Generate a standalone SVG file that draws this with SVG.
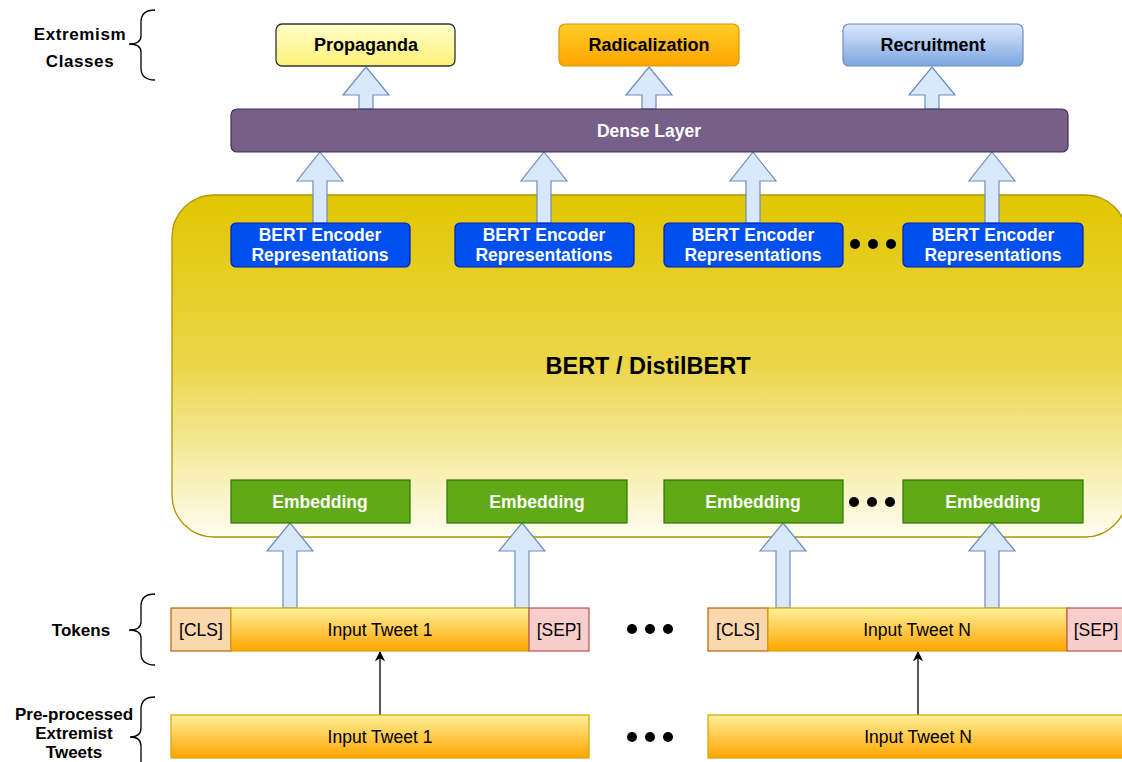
<svg xmlns="http://www.w3.org/2000/svg" width="1122" height="762" viewBox="0 0 1122 762">
<defs>
<linearGradient id="gProp" x1="0" y1="0" x2="0" y2="1"><stop offset="0" stop-color="#ffffcc"/><stop offset="1" stop-color="#fff176"/></linearGradient>
<linearGradient id="gRad" x1="0" y1="0" x2="0" y2="1"><stop offset="0" stop-color="#ffcd28"/><stop offset="1" stop-color="#ffa500"/></linearGradient>
<linearGradient id="gRec" x1="0" y1="0" x2="0" y2="1"><stop offset="0" stop-color="#dae8fc"/><stop offset="1" stop-color="#7ea6e0"/></linearGradient>
<linearGradient id="gBert" x1="0" y1="0" x2="0" y2="1"><stop offset="0" stop-color="#e2c600"/><stop offset="0.5" stop-color="#ebd64a"/><stop offset="1" stop-color="#fffdf0"/></linearGradient>
<linearGradient id="gTw" x1="0" y1="0" x2="0" y2="1"><stop offset="0" stop-color="#fff09a"/><stop offset="1" stop-color="#ffa500"/></linearGradient>
<marker id="ah" viewBox="0 0 10 10" refX="9" refY="5" markerWidth="8" markerHeight="8" orient="auto"><path d="M0,0 L10,5 L0,10 L3,5 Z" fill="#000"/></marker>
</defs>
<style>
.lbl{font-family:"Liberation Sans",Arial,sans-serif;font-weight:bold;font-size:17px;fill:#000;text-anchor:middle}
.cls{font-family:"Liberation Sans",Arial,sans-serif;font-weight:bold;font-size:18px;fill:#000;text-anchor:middle}
.wt{font-family:"Liberation Sans",Arial,sans-serif;font-weight:bold;font-size:17.5px;fill:#fff;text-anchor:middle}
.tk{font-family:"Liberation Sans",Arial,sans-serif;font-size:17.5px;fill:#000;text-anchor:middle}
.brace{fill:none;stroke:#000;stroke-width:1.3}
.barrow{fill:#dae8fc;stroke:#6c8ebf;stroke-width:1.2}
.enc{fill:#0050ef;stroke:#001dbc;stroke-width:1.2}
.emb{fill:#60a917;stroke:#2d7600;stroke-width:1.2}
.tw{fill:url(#gTw);stroke:#d6a300;stroke-width:1.2}
.clsb{fill:#fad7ac;stroke:#b46504;stroke-width:1.2}
.sep{fill:#f8cecc;stroke:#b85450;stroke-width:1.2}
</style>
<rect width="1122" height="762" fill="#fff"/>

<g id="labels">
<text class="lbl" x="80" y="40" font-size="16" letter-spacing="0.6">Extremism</text>
<text class="lbl" x="80" y="67" font-size="16" letter-spacing="0.6">Classes</text>
<path class="brace" d="M155,10 Q141,10 141,22 L141,36 Q141,44 129,44 Q141,44 141,52 L141,68 Q141,80 155,80"/>
<text class="lbl" x="81" y="636">Tokens</text>
<path class="brace" d="M155,594 Q141,594 141,606 L141,622 Q141,630 129,630 Q141,630 141,638 L141,653 Q141,665 155,665"/>
<text class="lbl" x="74" y="720">Pre-processed</text>
<text class="lbl" x="74" y="739">Extremist</text>
<text class="lbl" x="74" y="758">Tweets</text>
<path class="brace" d="M155,697 Q141,697 141,709 L141,728 Q141,737 130,737 Q141,737 141,746 L141,762"/>
</g>

<g id="bert-container">
<rect x="172" y="195" width="955" height="342" rx="42" ry="42" fill="url(#gBert)" stroke="#b09500" stroke-width="1.3"/>
<text x="648" y="374" font-family="Liberation Sans,Arial,sans-serif" font-weight="bold" font-size="23.5" text-anchor="middle" fill="#000">BERT / DistilBERT</text>
</g>

<g id="connectors">
<path class="barrow" d="M366,67 L389,95 L373,95 L373,109 L359,109 L359,95 L343,95 Z"/>
<path class="barrow" d="M649,67 L672,95 L656,95 L656,109 L642,109 L642,95 L626,95 Z"/>
<path class="barrow" d="M932,67 L955,95 L939,95 L939,109 L925,109 L925,95 L909,95 Z"/>
<path class="barrow" d="M320,152 L343,181 L327,181 L327,223 L313,223 L313,181 L297,181 Z"/>
<path class="barrow" d="M544,152 L567,181 L551,181 L551,223 L537,223 L537,181 L521,181 Z"/>
<path class="barrow" d="M753,152 L776,181 L760,181 L760,223 L746,223 L746,181 L730,181 Z"/>
<path class="barrow" d="M992,152 L1015,181 L999,181 L999,223 L985,223 L985,181 L969,181 Z"/>
<path class="barrow" d="M290,523 L313,551 L297,551 L297,608 L283,608 L283,551 L267,551 Z"/>
<path class="barrow" d="M522,523 L545,551 L529,551 L529,608 L515,608 L515,551 L499,551 Z"/>
<path class="barrow" d="M783,523 L806,551 L790,551 L790,608 L776,608 L776,551 L760,551 Z"/>
<path class="barrow" d="M992,523 L1015,551 L999,551 L999,608 L985,608 L985,551 L969,551 Z"/>
<line x1="380" y1="715" x2="380" y2="652" stroke="#000" stroke-width="1.3" marker-end="url(#ah)"/>
<line x1="918" y1="715" x2="918" y2="652" stroke="#000" stroke-width="1.3" marker-end="url(#ah)"/>
</g>

<g id="class-propaganda"><rect x="276" y="24" width="179" height="42" rx="6" fill="url(#gProp)" stroke="#333" stroke-width="1.3"/><text class="cls" x="366" y="51">Propaganda</text></g>
<g id="class-radicalization"><rect x="559" y="24" width="180" height="42" rx="6" fill="url(#gRad)" stroke="#d79b00" stroke-width="1.2"/><text class="cls" x="649" y="51">Radicalization</text></g>
<g id="class-recruitment"><rect x="843" y="24" width="180" height="42" rx="6" fill="url(#gRec)" stroke="#6c8ebf" stroke-width="1.2"/><text class="cls" x="933" y="51">Recruitment</text></g>

<g id="dense-layer"><rect x="231" y="109" width="837" height="43" rx="6" fill="#76608a" stroke="#432d57" stroke-width="1.2"/><text class="wt" x="649" y="137">Dense Layer</text></g>

<g id="enc1"><rect class="enc" x="231" y="223" width="179" height="44" rx="5"/><text class="wt" x="320" y="241">BERT Encoder</text><text class="wt" x="320" y="261">Representations</text></g>
<g id="enc2"><rect class="enc" x="455" y="223" width="179" height="44" rx="5"/><text class="wt" x="544" y="241">BERT Encoder</text><text class="wt" x="544" y="261">Representations</text></g>
<g id="enc3"><rect class="enc" x="664" y="223" width="179" height="44" rx="5"/><text class="wt" x="753" y="241">BERT Encoder</text><text class="wt" x="753" y="261">Representations</text></g>
<g id="enc4"><rect class="enc" x="903" y="223" width="180" height="44" rx="5"/><text class="wt" x="993" y="241">BERT Encoder</text><text class="wt" x="993" y="261">Representations</text></g>
<g id="enc-dots" fill="#000"><circle cx="855" cy="244" r="5"/><circle cx="873" cy="244" r="5"/><circle cx="891" cy="244" r="5"/></g>

<g id="emb1"><rect class="emb" x="231" y="480" width="179" height="43"/><text class="wt" x="320" y="508">Embedding</text></g>
<g id="emb2"><rect class="emb" x="447" y="480" width="180" height="43"/><text class="wt" x="537" y="508">Embedding</text></g>
<g id="emb3"><rect class="emb" x="664" y="480" width="179" height="43"/><text class="wt" x="753" y="508">Embedding</text></g>
<g id="emb4"><rect class="emb" x="903" y="480" width="180" height="43"/><text class="wt" x="993" y="508">Embedding</text></g>
<g id="emb-dots" fill="#000"><circle cx="854" cy="502" r="5"/><circle cx="872" cy="502" r="5"/><circle cx="890" cy="502" r="5"/></g>

<g id="tokens1">
<rect class="clsb" x="171" y="608" width="60" height="43"/><text class="tk" x="201" y="636">[CLS]</text>
<rect class="tw" x="231" y="608" width="298" height="43"/><text class="tk" x="380" y="636">Input Tweet 1</text>
<rect class="sep" x="529" y="608" width="60" height="43"/><text class="tk" x="559" y="636">[SEP]</text>
</g>
<g id="tokens-dots" fill="#000"><circle cx="632" cy="629" r="5"/><circle cx="650" cy="629" r="5"/><circle cx="668" cy="629" r="5"/></g>
<g id="tokensN">
<rect class="clsb" x="708" y="608" width="60" height="43"/><text class="tk" x="738" y="636">[CLS]</text>
<rect class="tw" x="768" y="608" width="299" height="43"/><text class="tk" x="917" y="636">Input Tweet N</text>
<rect class="sep" x="1067" y="608" width="60" height="43"/><text class="tk" x="1096" y="636">[SEP]</text>
</g>

<g id="tweet1"><rect class="tw" x="171" y="715" width="418" height="43"/><text class="tk" x="380" y="743">Input Tweet 1</text></g>
<g id="tweet-dots" fill="#000"><circle cx="632" cy="737" r="5"/><circle cx="650" cy="737" r="5"/><circle cx="668" cy="737" r="5"/></g>
<g id="tweetN"><rect class="tw" x="708" y="715" width="419" height="43"/><text class="tk" x="918" y="743">Input Tweet N</text></g>
</svg>
